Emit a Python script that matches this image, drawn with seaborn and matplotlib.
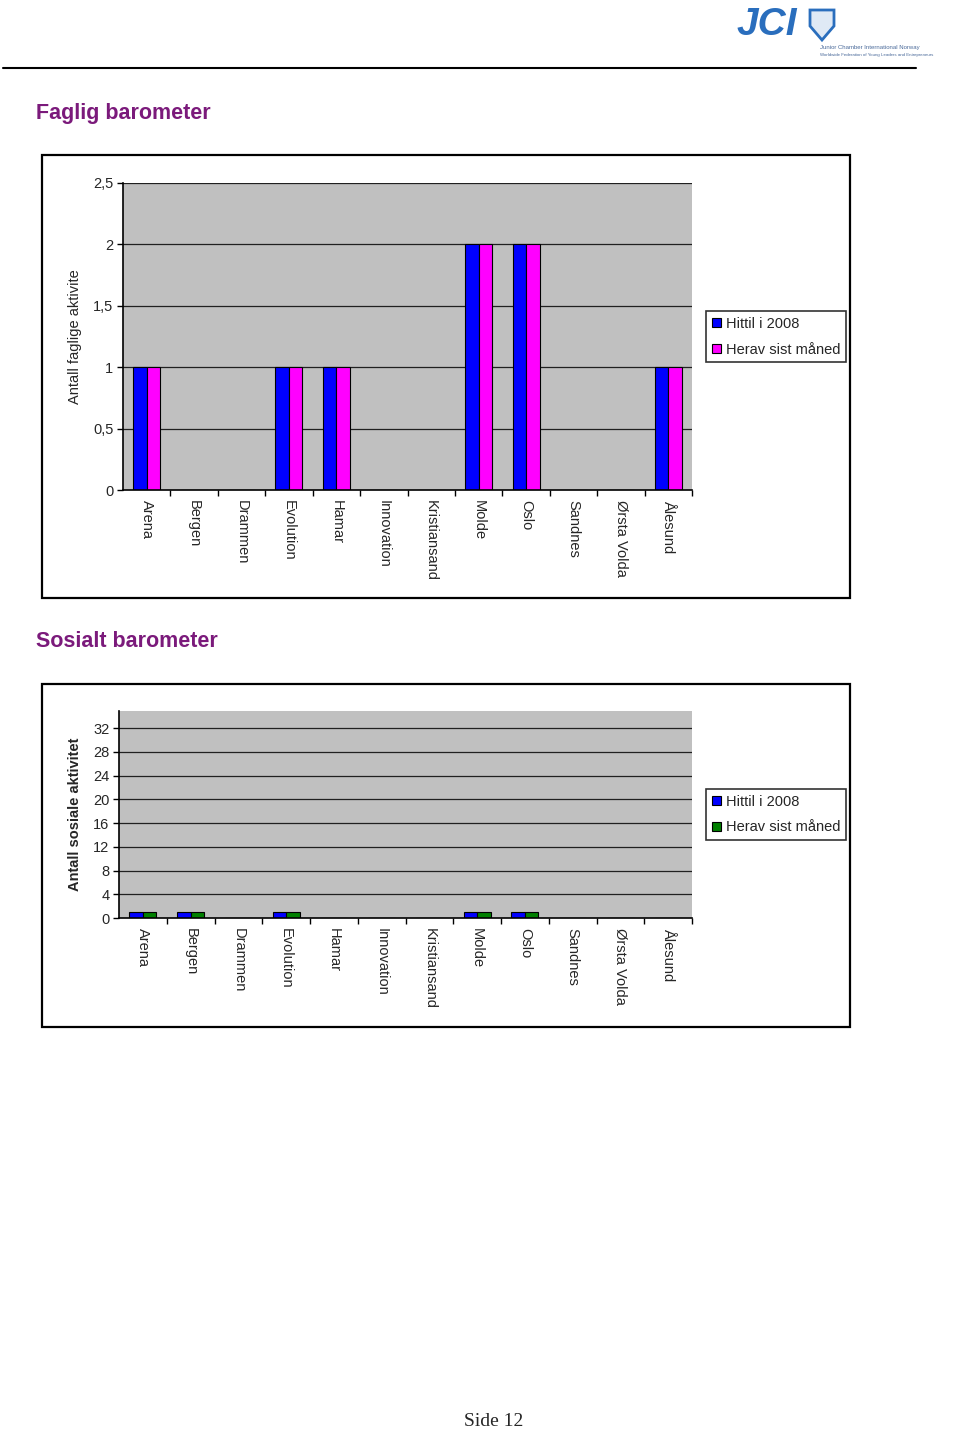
import matplotlib
matplotlib.use("Agg")
import matplotlib.pyplot as plt
from matplotlib.patches import Rectangle, Patch, Polygon
from matplotlib.lines import Line2D
import seaborn as sns
import pandas as pd

# data
lag = ["Arena", "Bergen", "Drammen", "Evolution", "Hamar", "Innovation",
       "Kristiansand", "Molde", "Oslo", "Sandnes", "Ørsta Volda", "Ålesund"]
serier = ["Hittil i 2008", "Herav sist måned"]
faglig_hittil = [1, 0, 0, 1, 1, 0, 0, 2, 2, 0, 0, 1]
faglig_sist = [1, 0, 0, 1, 1, 0, 0, 2, 2, 0, 0, 1]
sosialt_hittil = [1, 1, 0, 1, 0, 0, 0, 1, 1, 0, 0, 0]
sosialt_sist = [1, 1, 0, 1, 0, 0, 0, 1, 1, 0, 0, 0]
faglig_ticks = [0, 0.5, 1, 1.5, 2, 2.5]
faglig_ticklabels = ["0", "0,5", "1", "1,5", "2", "2,5"]
sosialt_ticks = [0, 4, 8, 12, 16, 20, 24, 28, 32]

def lang_df(a, b):
    return pd.DataFrame({
        "lag": lag * 2,
        "serie": [serier[0]] * len(lag) + [serier[1]] * len(lag),
        "verdi": a + b,
    })

sns.set_theme(style="white")
plt.rcParams["font.family"] = ["Liberation Sans", "DejaVu Sans"]

W, H = 960, 1430
fig = plt.figure(figsize=(9.6, 14.3), dpi=100)

def fx(x):
    return x / W

def fy(y):
    return 1 - y / H

def tegn(ax, df, farger, ticks, ticklabels, ylim, ylabel, bold, leg_top):
    sns.barplot(data=df, x="lag", y="verdi", hue="serie", palette=farger,
                width=0.57, edgecolor="black", linewidth=0.8, ax=ax,
                legend=False, saturation=1)
    ax.set_facecolor("#c0c0c0")
    ax.set_ylim(*ylim)
    ax.set_xlim(-0.5, len(lag) - 0.5)
    ax.set_yticks(ticks)
    ax.set_yticklabels(ticklabels, fontsize=10.5)
    for t in ticks[1:]:
        ax.axhline(t, color="#202020", lw=0.9, zorder=0.5)
    ax.set_xticks(range(len(lag)))
    ax.set_xticklabels(lag, rotation=-90, fontsize=10.5, va="top")
    ax.set_xticks([i + 0.5 for i in range(len(lag))], minor=True)
    ax.tick_params(axis="x", which="major", length=0, pad=7)
    ax.tick_params(axis="x", which="minor", length=4, width=1, color="black",
                   direction="out", bottom=True)
    ax.tick_params(axis="y", length=4, width=1, color="black",
                   direction="out", left=True, pad=3)
    ax.set_axisbelow(True)
    for s in ["top", "right"]:
        ax.spines[s].set_visible(False)
    for s in ["left", "bottom"]:
        ax.spines[s].set_color("black")
        ax.spines[s].set_linewidth(1.2)
    ax.set_xlabel("")
    ax.set_ylabel(ylabel, fontsize=10.5,
                  fontweight="bold" if bold else "normal", labelpad=8)
    handles = [Patch(facecolor=c, edgecolor="black", linewidth=0.8) for c in farger]
    leg = ax.legend(handles, serier, loc="upper left",
                    bbox_to_anchor=(fx(706), fy(leg_top)),
                    bbox_transform=fig.transFigure, frameon=True,
                    fancybox=False, edgecolor="black", fontsize=10.5,
                    handlelength=0.6, handleheight=0.6, handletextpad=0.35,
                    borderpad=0.4, labelspacing=0.8, borderaxespad=0)
    leg.get_frame().set_linewidth(1.2)

# faglig barometer
ax1 = fig.add_axes([fx(123), fy(490), fx(692) - fx(123), fy(183) - fy(490)])
tegn(ax1, lang_df(faglig_hittil, faglig_sist), ["#0000ff", "#ff00ff"],
     faglig_ticks, faglig_ticklabels, (0, 2.5), "Antall faglige aktivite",
     False, 311)

# sosialt barometer
ax2 = fig.add_axes([fx(119), fy(918), fx(692) - fx(119), fy(711) - fy(918)])
tegn(ax2, lang_df(sosialt_hittil, sosialt_sist), ["#0000ff", "#008000"],
     sosialt_ticks, [str(t) for t in sosialt_ticks], (0, 34.9),
     "Antall sosiale aktivitet", True, 789)

# rammer rundt diagrammene
for top, bunn in [(155, 598), (684, 1027)]:
    fig.patches.append(Rectangle((fx(42), fy(bunn)), fx(850) - fx(42),
                                 fy(top) - fy(bunn), transform=fig.transFigure,
                                 fill=False, edgecolor="black", lw=1.6))

# titler
lilla = "#7b1a7b"
fig.text(fx(36), fy(113), "Faglig barometer", color=lilla, fontsize=15.5,
         fontweight="bold", va="center")
fig.text(fx(36), fy(642), "Sosialt barometer", color=lilla, fontsize=15.5,
         fontweight="bold", va="center")

# topptekst
fig.add_artist(Line2D([fx(3), fx(916)], [fy(68), fy(68)], color="black", lw=1.5,
                      transform=fig.transFigure))
fig.text(fx(737), fy(25), "JCI", color="#2a6ebd", fontsize=28,
         fontweight="bold", style="italic", va="center")
fig.patches.append(Polygon([(fx(810), fy(10)), (fx(834), fy(10)), (fx(834), fy(26)),
                            (fx(822), fy(40)), (fx(810), fy(26))], closed=True,
                           transform=fig.transFigure, facecolor="#dfe9f5",
                           edgecolor="#2a6ebd", lw=2))
fig.text(fx(820), fy(48), "Junior Chamber International Norway",
         color="#4a6a9a", fontsize=4.3, va="center")
fig.text(fx(820), fy(55), "Worldwide Federation of Young Leaders and Entrepreneurs",
         color="#4a6a9a", fontsize=3.2, va="center")

# bunntekst
fig.text(fx(494), fy(1421), "Side 12", fontsize=14, ha="center", va="center",
         family=["Liberation Serif", "DejaVu Serif"])

fig.savefig("out.png", dpi=100)
